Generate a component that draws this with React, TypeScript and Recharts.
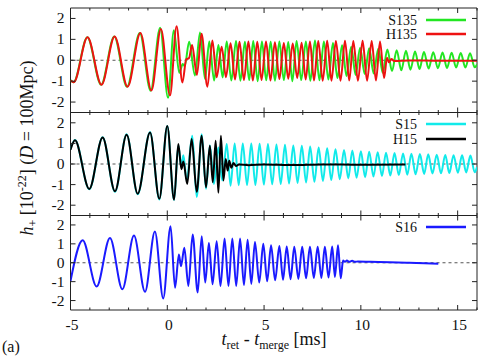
import React from 'react';
import { LineChart, Line, XAxis, YAxis, ReferenceLine, ReferenceArea } from 'recharts';

// ---------- axis ticks ----------
const xTicks = [-5, -4, -3, -2, -1, 0, 1, 2, 3, 4, 5, 6, 7, 8, 9, 10, 11, 12, 13, 14, 15, 16];
const xMajorTicks = [-5, 0, 5, 10, 15];
const yTicks = [-2, -1, 0, 1, 2];
const xDomain = [-5, 16];
const yDomain = [-2.5, 2.5];

// ---------- series: [t_ret - t_merge (ms), h+ (1e-22)] read at extrema ----------
const s135: number[][] = [
  [-5.0, -0.95], [-4.84, -1.05], [-4.13, 1.1], [-3.42, -1.17], [-2.74, 1.14], [-2.08, -1.27],
  [-1.42, 1.3], [-0.86, -1.46], [-0.37, 1.55], [0.04, -1.8], [0.34, 1.43], [0.62, -0.6],
  [0.8, -0.18], [0.9, -0.28], [1.13, 0.88], [1.43, -0.73], [1.69, 1.33], [1.95, -0.9],
  [2.17, 0.9], [2.42, -0.97], [2.64, 0.73], [2.86, -0.82], [3.07, 0.9], [3.31, -0.97],
  [3.55, 0.92], [3.78, -0.98], [4.01, 0.88], [4.23, -0.95], [4.44, 0.92], [4.67, -1.0],
  [4.89, 0.9], [5.11, -0.96], [5.34, 0.88], [5.56, -0.98], [5.79, 0.9], [6.02, -0.95],
  [6.25, 0.87], [6.46, -1.0], [6.68, 0.92], [6.92, -0.95], [7.16, 0.9], [7.39, -0.98],
  [7.63, 0.95], [7.86, -0.96], [8.09, 0.9], [8.32, -0.92], [8.56, 0.82], [8.79, -0.85],
  [9.03, 0.72], [9.26, -0.75], [9.5, 0.65], [9.73, -0.7], [9.96, 0.6], [10.2, -0.66],
  [10.43, 0.57], [10.66, -0.63], [10.9, 0.55], [11.13, -0.6], [11.37, 0.52], [11.61, -0.52],
  [11.85, 0.48], [12.09, -0.48], [12.33, 0.45], [12.56, -0.45], [12.8, 0.42], [13.03, -0.42],
  [13.26, 0.4], [13.5, -0.4], [13.74, 0.38], [13.98, -0.38], [14.22, 0.37], [14.45, -0.37],
  [14.69, 0.36], [14.92, -0.35], [15.16, 0.35], [15.4, -0.35], [15.64, 0.34], [15.88, -0.34],
  [16.0, -0.2],
];

const h135: number[][] = [
  [-5.0, -0.97], [-4.83, -1.05], [-4.12, 1.1], [-3.4, -1.17], [-2.72, 1.14], [-2.05, -1.27],
  [-1.39, 1.3], [-0.82, -1.45], [-0.33, 1.5], [0.14, -1.68], [0.48, 1.63], [0.78, -1.06],
  [0.98, 0.05], [1.12, 0.1], [1.28, 0.73], [1.53, -0.7], [1.77, 1.27], [2.07, -1.27],
  [2.33, 0.94], [2.55, -0.81], [2.81, 0.65], [3.03, -0.81], [3.27, 0.81], [3.5, -0.92],
  [3.73, 0.88], [3.96, -0.95], [4.19, 0.9], [4.42, -0.97], [4.65, 0.88], [4.87, -0.95],
  [5.1, 0.9], [5.33, -0.97], [5.56, 0.86], [5.79, -0.9], [6.02, 0.82], [6.25, -0.88],
  [6.48, 0.8], [6.71, -0.85], [6.94, 0.84], [7.15, -0.92], [7.37, 0.9], [7.58, -0.97],
  [7.8, 0.92], [8.03, -0.98], [8.26, 0.93], [8.48, -0.98], [8.71, 0.92], [8.95, -0.98],
  [9.18, 0.93], [9.4, -0.97], [9.61, 0.92], [9.85, -0.98], [10.09, 0.93], [10.32, -0.98],
  [10.56, 0.92], [10.78, -0.97], [10.99, 0.9], [11.2, -0.85], [11.35, 0.12], [11.45, -0.1],
  [11.58, 0.06], [11.72, -0.03], [12.5, -0.01], [14.0, -0.02], [16.0, -0.02],
];

const s15: number[][] = [
  [-5.0, 0.72], [-4.77, 1.17], [-4.03, -1.23], [-3.34, 1.3], [-2.7, -1.35], [-2.1, 1.44],
  [-1.53, -1.47], [-0.89, 1.55], [-0.41, -1.72], [0.0, 1.85], [0.35, -1.75], [0.57, 0.9],
  [0.72, -0.1], [0.83, 0.42], [1.0, -0.8], [1.29, 1.37], [1.52, -1.6], [1.78, 1.45],
  [2.0, -1.2], [2.2, 0.9], [2.41, -0.97], [2.64, 0.8], [2.84, -0.8], [3.07, 0.97],
  [3.27, -1.05], [3.48, 1.0], [3.69, -1.03], [3.9, 1.0], [4.12, -1.02], [4.34, 1.0],
  [4.55, -1.02], [4.77, 0.98], [4.99, -1.0], [5.2, 0.97], [5.42, -0.98], [5.64, 0.95],
  [5.86, -0.97], [6.08, 0.93], [6.29, -0.95], [6.51, 0.9], [6.73, -0.92], [6.95, 0.88],
  [7.17, -0.9], [7.38, 0.85], [7.6, -0.86], [7.82, 0.8], [8.04, -0.82], [8.26, 0.76],
  [8.47, -0.78], [8.69, 0.72], [8.91, -0.74], [9.13, 0.68], [9.35, -0.7], [9.56, 0.65],
  [9.78, -0.67], [10.0, 0.62], [10.22, -0.64], [10.43, 0.6], [10.65, -0.61], [10.87, 0.57],
  [11.09, -0.58], [11.3, 0.55], [11.52, -0.56], [11.74, 0.53], [11.96, -0.54], [12.18, 0.51],
  [12.4, -0.52], [12.61, 0.5], [12.83, -0.5], [13.05, 0.48], [13.27, -0.48], [13.48, 0.47],
  [13.7, -0.46], [13.92, 0.45], [14.14, -0.45], [14.36, 0.44], [14.57, -0.44], [14.79, 0.43],
  [15.01, -0.42], [15.23, 0.42], [15.44, -0.41], [15.66, 0.41], [15.88, -0.4], [16.0, -0.15],
];

const h15: number[][] = [
  [-5.0, 0.69], [-4.77, 1.15], [-4.03, -1.21], [-3.34, 1.29], [-2.7, -1.32], [-2.1, 1.42],
  [-1.53, -1.44], [-0.89, 1.53], [-0.41, -1.69], [0.0, 1.85], [0.35, -1.73], [0.57, 0.97],
  [0.73, -0.25], [0.83, 0.12], [1.03, -0.97], [1.26, 1.21], [1.52, -1.35], [1.78, 1.37],
  [2.0, -1.13], [2.2, 0.89], [2.35, -0.89], [2.5, 1.13], [2.64, -1.4], [2.77, 1.37],
  [2.9, -0.8], [3.02, 0.24], [3.12, -0.32], [3.2, 0.16], [3.31, -0.18], [3.42, 0.05],
  [3.55, -0.1], [3.7, -0.02], [4.2, -0.06], [5.0, -0.02], [6.5, -0.05], [8.0, -0.02],
  [10.0, -0.04], [12.3, -0.02],
];

const s16: number[][] = [
  [-5.0, -0.97], [-4.37, 1.19], [-3.65, -1.26], [-2.96, 1.31], [-2.32, -1.4], [-1.72, 1.44],
  [-1.15, -1.54], [-0.64, 1.66], [-0.21, -1.89], [0.17, 1.93], [0.4, -1.32], [0.6, 0.44],
  [0.71, -0.18], [0.88, 0.79], [1.09, -1.23], [1.31, 1.49], [1.57, -1.58], [1.78, 1.4],
  [1.96, -1.05], [2.15, 1.05], [2.34, -1.14], [2.55, 1.14], [2.75, -1.23], [2.96, 1.28],
  [3.16, -1.23], [3.36, 1.28], [3.56, -1.23], [3.76, 1.28], [3.96, -1.18], [4.15, 1.22],
  [4.34, -1.12], [4.53, 1.1], [4.75, -1.05], [4.96, 1.0], [5.16, -0.98], [5.36, 0.93],
  [5.57, -0.93], [5.79, 0.88], [5.98, -0.9], [6.17, 0.86], [6.37, -0.87], [6.56, 0.85],
  [6.77, -0.85], [6.97, 0.84], [7.17, -0.82], [7.37, 0.84], [7.57, -0.8], [7.77, 0.84],
  [7.96, -0.8], [8.14, 0.84], [8.33, -0.78], [8.52, 0.86], [8.66, -0.75], [8.82, 0.93],
  [8.96, -0.82], [9.08, 0.12], [9.18, 0.05], [9.28, 0.12], [9.4, 0.05], [9.55, 0.1],
  [9.7, 0.05], [9.85, 0.07], [10.5, 0.05], [11.5, 0.03], [12.5, 0.0], [13.3, -0.03],
  [14.0, -0.05],
];

const toPts = (arr: number[][]) => arr.map(([t, h]) => ({ t, h }));

// ---------- layout ----------
const W = 483;
const H = 358;
const LEFT = 70.5;
const RIGHT = 477;
const FONT = '"Liberation Serif", "Times New Roman", Times, serif';

const C_GREEN = '#22e622';
const C_RED = '#ee1111';
const C_CYAN = '#11eaea';
const C_BLACK = '#000000';
const C_BLUE = '#1a1aff';

type Series = { name: string; color: string; data: { t: number; h: number }[] };

function Panel({ top, bottom, series, showXLabels }: { top: number; bottom: number; series: Series[]; showXLabels: boolean }) {
  const ph = bottom - top;
  const pw = RIGHT - LEFT;
  const XTick = (p: any) => {
    const { x, y, payload } = p;
    const v = payload.value;
    const major = xMajorTicks.includes(v);
    const len = major ? 5 : 2.5;
    return (
      <g>
        <line x1={x} x2={x} y1={y} y2={y - len} stroke="#222" strokeWidth={1} />
        <line x1={x} x2={x} y1={y - ph} y2={y - ph + len} stroke="#222" strokeWidth={1} />
        {showXLabels && major ? (
          <text x={x + 1.5} y={y + 20} textAnchor="middle" fontFamily={FONT} fontSize={15.5} fill="#111">
            {String(v)}
          </text>
        ) : null}
      </g>
    );
  };
  const YTick = (p: any) => {
    const { x, y, payload } = p;
    const v = payload.value;
    return (
      <g>
        <line x1={x} x2={x + 5} y1={y} y2={y} stroke="#222" strokeWidth={1} />
        <line x1={x + pw} x2={x + pw - 5} y1={y} y2={y} stroke="#222" strokeWidth={1} />
        <text x={x - 6} y={y + 5} textAnchor="end" fontFamily={FONT} fontSize={15.5} fill="#111">
          {String(v)}
        </text>
      </g>
    );
  };
  return (
    <div style={{ position: 'absolute', left: 0, top: 0 }}>
      <LineChart width={W} height={H} margin={{ top, right: W - RIGHT, bottom: H - bottom - 1, left: LEFT - 1 }}>
        <XAxis
          dataKey="t"
          type="number"
          domain={xDomain}
          ticks={xTicks}
          interval={0}
          height={1}
          tickSize={0}
          tickMargin={0}
          axisLine={false}
          tickLine={false}
          tick={XTick}
          allowDataOverflow
        />
        <YAxis
          type="number"
          domain={yDomain}
          ticks={yTicks}
          interval={0}
          width={1}
          tickSize={0}
          tickMargin={0}
          axisLine={false}
          tickLine={false}
          tick={YTick}
          allowDataOverflow
        />
        <ReferenceLine y={0} stroke="#555" strokeWidth={1} strokeDasharray="3 3" />
        {series.map((s) => (
          <Line
            key={s.name}
            data={s.data}
            dataKey="h"
            type="monotone"
            stroke={s.color}
            strokeWidth={2}
            dot={false}
            activeDot={false}
            isAnimationActive={false}
          />
        ))}
        <ReferenceArea x1={-5} x2={16} y1={-2.5} y2={2.5} fill="none" fillOpacity={0} stroke="#222" strokeWidth={1} ifOverflow="visible" />
      </LineChart>
    </div>
  );
}

const legendRows = [
  { label: 'S135', color: C_GREEN, y: 20 },
  { label: 'H135', color: C_RED, y: 34 },
  { label: 'S15', color: C_CYAN, y: 124 },
  { label: 'H15', color: C_BLACK, y: 139 },
  { label: 'S16', color: C_BLUE, y: 227 },
];

export default function App() {
  return (
    <div style={{ position: 'absolute', left: 0, top: 0, width: W, height: H, background: '#fff', overflow: 'hidden' }}>
      <Panel
        top={8}
        bottom={112.5}
        showXLabels={false}
        series={[
          { name: 'S135', color: C_GREEN, data: toPts(s135) },
          { name: 'H135', color: C_RED, data: toPts(h135) },
        ]}
      />
      <Panel
        top={112.5}
        bottom={215.5}
        showXLabels={false}
        series={[
          { name: 'S15', color: C_CYAN, data: toPts(s15) },
          { name: 'H15', color: C_BLACK, data: toPts(h15) },
        ]}
      />
      <Panel
        top={215.5}
        bottom={310}
        showXLabels={true}
        series={[{ name: 'S16', color: C_BLUE, data: toPts(s16) }]}
      />
      <svg width={W} height={H} style={{ position: 'absolute', left: 0, top: 0, pointerEvents: 'none' }}>
        {legendRows.map((r) => (
          <g key={r.label}>
            <text x={417} y={r.y + 4.5} textAnchor="end" fontFamily={FONT} fontSize={14} fill="#111">
              {r.label}
            </text>
            <line x1={426} x2={466} y1={r.y} y2={r.y} stroke={r.color} strokeWidth={2.5} />
          </g>
        ))}
        <text x={274} y={345} textAnchor="middle" fontFamily={FONT} fontSize={18} fill="#111">
          <tspan fontStyle="italic">t</tspan>
          <tspan fontSize={12} dy={4}>ret</tspan>
          <tspan dy={-4}> - </tspan>
          <tspan fontStyle="italic">t</tspan>
          <tspan fontSize={12} dy={4}>merge</tspan>
          <tspan dy={-4}> [ms]</tspan>
        </text>
        <text x={2} y={352} fontFamily={FONT} fontSize={16} fill="#111">(a)</text>
        <text transform="translate(33,148) rotate(-90)" x={0} y={0} textAnchor="middle" fontFamily={FONT} fontSize={18} fill="#111">
          <tspan fontStyle="italic">h</tspan>
          <tspan fontSize={12} dy={4}>+</tspan>
          <tspan dy={-4}> [10</tspan>
          <tspan fontSize={12} dy={-7}>-22</tspan>
          <tspan dy={7}>] (</tspan>
          <tspan fontStyle="italic">D</tspan>
          <tspan> = 100Mpc)</tspan>
        </text>
      </svg>
    </div>
  );
}
